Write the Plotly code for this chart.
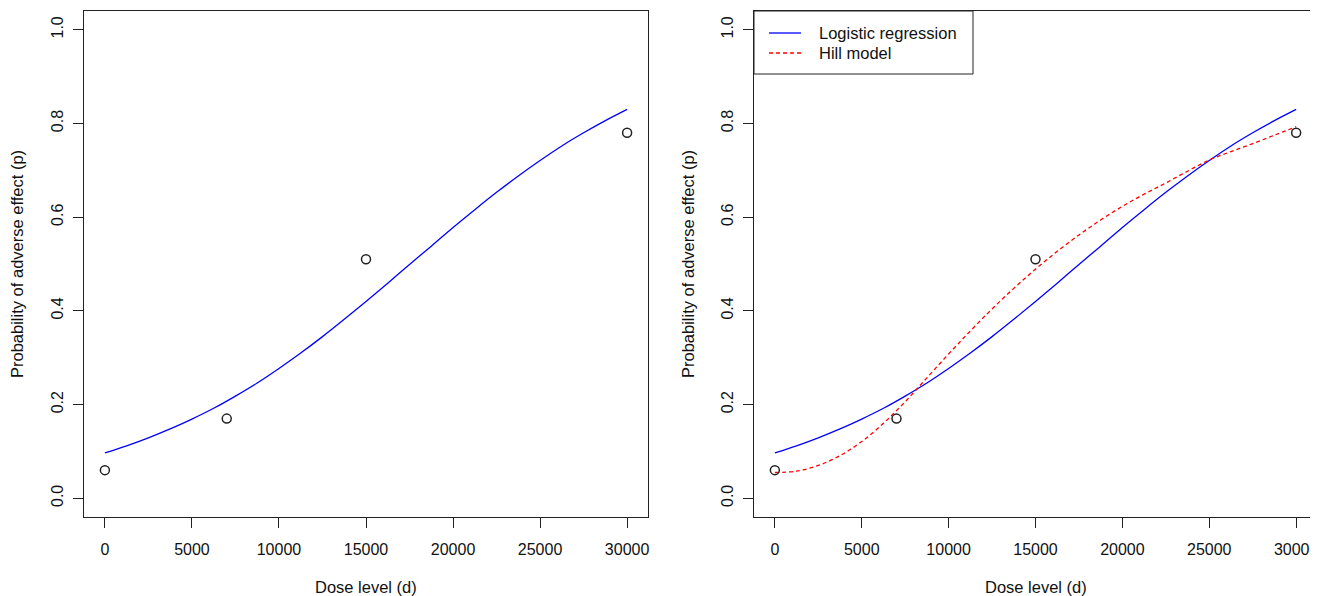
import plotly.graph_objects as go

# Observed data
dose_obs = [0, 7000, 15000, 30000]
prob_obs = [0.06, 0.17, 0.51, 0.78]

# Fitted curves
dose_grid = [0, 1250, 2500, 3750, 5000, 6250, 7500, 8750, 10000, 11250, 12500, 13750, 15000,
             16250, 17500, 18750, 20000, 21250, 22500, 23750, 25000, 26250, 27500, 28750, 30000]
logistic_p = [0.097, 0.112, 0.129, 0.148, 0.169, 0.192, 0.218, 0.246, 0.277, 0.310, 0.345, 0.382, 0.420,
              0.459, 0.499, 0.538, 0.578, 0.616, 0.653, 0.688, 0.721, 0.752, 0.780, 0.806, 0.830]
hill_p = [0.055, 0.058, 0.070, 0.091, 0.121, 0.160, 0.206, 0.257, 0.308, 0.357, 0.404, 0.448, 0.489,
          0.527, 0.562, 0.594, 0.623, 0.649, 0.673, 0.698, 0.722, 0.740, 0.757, 0.775, 0.793]

x_ticks = [0, 5000, 10000, 15000, 20000, 25000, 30000]
y_ticks = [0.0, 0.2, 0.4, 0.6, 0.8, 1.0]
y_tick_labels = ["0.0", "0.2", "0.4", "0.6", "0.8", "1.0"]
legend_names = ["Logistic regression", "Hill model"]

FONT = "Liberation Sans, Arial, Helvetica, sans-serif"
FS_TICK = 16
FS_LAB = 16.5
INK = "#222222"
TXT = "#111111"

OFF = 8  # page body margin
W, H = 1318 - OFF, 596 - OFF


def px(X):
    return (X - OFF) / W


def py(Y):
    return 1 - (Y - OFF) / H


fig = go.Figure()

for i, (xa, ya) in enumerate([("x", "y"), ("x2", "y2")]):
    fig.add_trace(go.Scatter(x=dose_grid, y=logistic_p, mode="lines", xaxis=xa, yaxis=ya,
                             line=dict(color="#0000ff", width=1.3, shape="spline"),
                             name=legend_names[0], showlegend=False))
    if i == 1:
        fig.add_trace(go.Scatter(x=dose_grid, y=hill_p, mode="lines", xaxis=xa, yaxis=ya,
                                 line=dict(color="#ff0000", width=1.3, dash="4px,3px", shape="spline"),
                                 name=legend_names[1], showlegend=False))
    fig.add_trace(go.Scatter(x=dose_obs, y=prob_obs, mode="markers", xaxis=xa, yaxis=ya,
                             marker=dict(symbol="circle-open", size=9, color=INK,
                                         line=dict(width=1.5, color=INK)),
                             showlegend=False))

ydom = [py(517), py(11)]
doms = [[px(84), px(648)], [px(754), px(1317)]]

axis_common = dict(showline=True, linecolor=INK, linewidth=1, mirror=True, showgrid=False, zeroline=False,
                   ticks="outside", ticklen=10, tickcolor=INK, tickwidth=1,
                   tickfont=dict(family=FONT, size=FS_TICK, color=TXT))

for i, sfx in enumerate(["", "2"]):
    fig.update_layout(**{
        "xaxis" + sfx: dict(domain=doms[i], range=[-1200, 31200], tickvals=x_ticks,
                            ticktext=[str(v) for v in x_ticks], ticklabelstandoff=8,
                            ticklabeloverflow="allow",
                            anchor="y" + sfx, **axis_common),
        "yaxis" + sfx: dict(domain=ydom, range=[-0.04, 1.04], tickvals=y_ticks, ticktext=y_tick_labels,
                            tickangle=-90, ticklabelstandoff=4, anchor="x" + sfx, **axis_common),
    })

annots = []
for i in range(2):
    cx = (doms[i][0] + doms[i][1]) / 2
    annots.append(dict(text="Dose level (d)", x=cx, y=py(587), xref="paper", yref="paper",
                       showarrow=False, xanchor="center", yanchor="middle",
                       font=dict(family=FONT, size=FS_LAB, color=TXT)))
    annots.append(dict(text="Probability of adverse effect (p)", x=px(17 + i * 671), y=(ydom[0] + ydom[1]) / 2,
                       xref="paper", yref="paper", showarrow=False, textangle=-90,
                       xanchor="center", yanchor="middle",
                       font=dict(family=FONT, size=FS_LAB, color=TXT)))

# Legend (drawn in the right panel's top-left corner)
shapes = [dict(type="rect", xref="paper", yref="paper", x0=px(754), x1=px(973), y0=py(74), y1=py(11),
               line=dict(color=INK, width=1), fillcolor="white", layer="above")]
leg_rows = [(33, "#0000ff", "solid"), (53, "#ff0000", "4px,3px")]
for (ry, col, dsh), name in zip(leg_rows, legend_names):
    shapes.append(dict(type="line", xref="paper", yref="paper", x0=px(769), x1=px(801), y0=py(ry), y1=py(ry),
                       line=dict(color=col, width=1.3, dash=dsh), layer="above"))
    annots.append(dict(text=name, x=px(817), y=py(ry), xref="paper", yref="paper", showarrow=False,
                       xanchor="left", yanchor="middle", font=dict(family=FONT, size=FS_LAB, color=TXT)))

fig.update_layout(
    width=W, height=H, margin=dict(l=0, r=0, t=0, b=0),
    paper_bgcolor="white", plot_bgcolor="white",
    annotations=annots, shapes=shapes, showlegend=False,
)

fig.write_html("out.html")
